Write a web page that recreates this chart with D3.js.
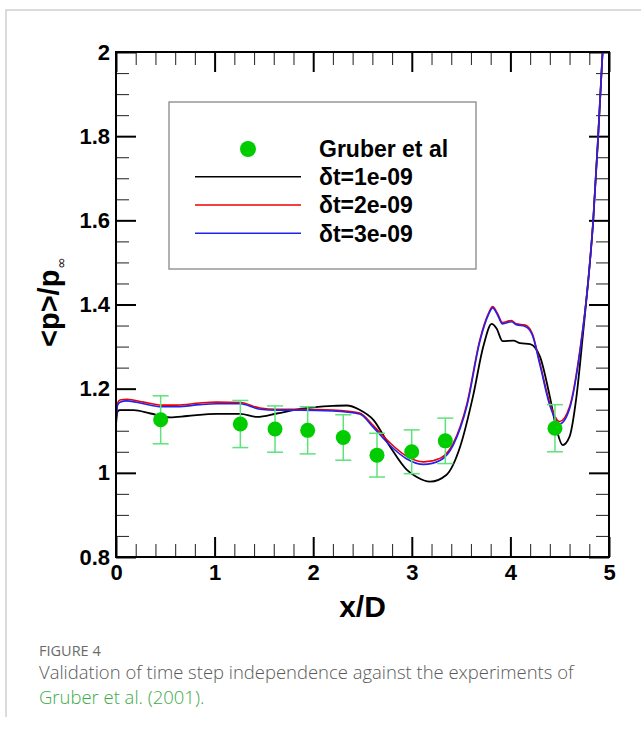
<!DOCTYPE html>
<html>
<head>
<meta charset="utf-8">
<script src="https://cdn.jsdelivr.net/npm/d3@7"></script>
<style>
  html, body { margin: 0; padding: 0; background: #fff; }
  svg { display: block; }
</style>
</head>
<body>
<svg id="chart" width="641" height="729"></svg>
<script>
// ---------- data ----------
const xTicks = [0, 1, 2, 3, 4, 5];
const yTicks = [0.8, 1, 1.2, 1.4, 1.6, 1.8, 2];
const yTickLabels = ["0.8", "1", "1.2", "1.4", "1.6", "1.8", "2"];

const gruberX   = [0.453, 1.261, 1.613, 1.944, 2.305, 2.647, 2.999, 3.340, 4.452];
const gruberY   = [1.126, 1.116, 1.104, 1.101, 1.084, 1.042, 1.050, 1.076, 1.106];
const gruberErr = [0.057, 0.056, 0.055, 0.056, 0.054, 0.052, 0.052, 0.054, 0.056];

const dt1X = [0, 0.015, 0.04, 0.18, 0.35, 0.55, 0.72, 1.02, 1.26, 1.43, 1.63, 1.87, 2.2, 2.34, 2.47, 2.61, 2.78, 2.95, 3.05, 3.185, 3.35, 3.49, 3.62, 3.725, 3.81, 3.86, 3.92, 4.03, 4.10, 4.20, 4.30, 4.40, 4.47, 4.53, 4.60, 4.67, 4.74, 4.79, 4.84, 4.89, 4.935, 4.96];
const dt1Y = [1.115, 1.145, 1.149, 1.149, 1.141, 1.132, 1.135, 1.140, 1.140, 1.133, 1.141, 1.152, 1.159, 1.160, 1.150, 1.126, 1.062, 1.007, 0.990, 0.979, 0.995, 1.062, 1.181, 1.300, 1.354, 1.343, 1.313, 1.314, 1.308, 1.306, 1.276, 1.181, 1.102, 1.066, 1.086, 1.181, 1.339, 1.458, 1.600, 1.800, 2.000, 2.100];

const dt2X = [0, 0.015, 0.04, 0.11, 0.28, 0.46, 0.62, 0.85, 1.02, 1.26, 1.46, 1.63, 1.87, 2.2, 2.47, 2.61, 2.78, 2.95, 3.12, 3.29, 3.42, 3.56, 3.69, 3.78, 3.82, 3.87, 3.92, 4.01, 4.06, 4.15, 4.22, 4.30, 4.40, 4.50, 4.60, 4.71, 4.79, 4.84, 4.89, 4.935, 4.96];
const dt2Y = [1.125, 1.165, 1.173, 1.175, 1.168, 1.161, 1.161, 1.166, 1.168, 1.167, 1.154, 1.151, 1.151, 1.149, 1.142, 1.112, 1.071, 1.039, 1.026, 1.035, 1.070, 1.165, 1.316, 1.380, 1.395, 1.378, 1.357, 1.362, 1.354, 1.351, 1.332, 1.260, 1.165, 1.122, 1.157, 1.300, 1.458, 1.600, 1.800, 2.000, 2.100];

const dt3X = [0, 0.015, 0.04, 0.11, 0.28, 0.46, 0.62, 0.85, 1.02, 1.26, 1.46, 1.63, 1.87, 2.2, 2.47, 2.61, 2.78, 2.95, 3.12, 3.29, 3.42, 3.56, 3.69, 3.78, 3.82, 3.87, 3.92, 4.01, 4.06, 4.15, 4.22, 4.30, 4.40, 4.50, 4.60, 4.71, 4.79, 4.84, 4.89, 4.935, 4.96];
const dt3Y = [1.120, 1.160, 1.168, 1.171, 1.164, 1.157, 1.157, 1.162, 1.164, 1.164, 1.151, 1.149, 1.149, 1.147, 1.140, 1.108, 1.065, 1.033, 1.020, 1.030, 1.066, 1.160, 1.312, 1.377, 1.392, 1.375, 1.354, 1.359, 1.352, 1.348, 1.329, 1.256, 1.160, 1.116, 1.152, 1.296, 1.458, 1.600, 1.800, 2.000, 2.100];

const seriesNames = ["δt=1e-09", "δt=2e-09", "δt=3e-09"];
const seriesColors = ["#000000", "#ee0000", "#2222ee"];
const expName = "Gruber et al";

// ---------- layout ----------
const svg = d3.select("#chart");
const L = 116, R = 609, T = 52, B = 557;
const x = d3.scaleLinear().domain([0, 5]).range([L, R]);
const y = d3.scaleLinear().domain([0.8, 2]).range([B, T]);
const tickFont = "'Liberation Sans', Arial, sans-serif";

// outer frame of the figure card
svg.append("path").attr("d", `M6,717 V10 H641`).attr("fill", "none")
  .attr("stroke", "#cfcfcf").attr("stroke-width", 1.5);

// clip
svg.append("defs").append("clipPath").attr("id", "clip")
  .append("rect").attr("x", L).attr("y", T).attr("width", R - L).attr("height", B - T);

// ---------- axes ----------
const xMinor = d3.range(0, 5.0001, 0.2).filter(v => Math.abs(v - Math.round(v)) > 1e-6);
const yMinor = d3.range(0.8, 2.0001, 0.05).filter(v => Math.abs(v * 5 - Math.round(v * 5)) > 1e-6);

function styleAxis(g, major) {
  g.select(".domain").remove();
  g.selectAll(".tick line").attr("stroke", major ? "#000" : "#333").attr("stroke-width", major ? 2 : 1.1);
  g.selectAll("text").attr("font-family", tickFont).attr("font-weight", "bold").attr("font-size", 22).attr("fill", "#000");
}

// bottom
svg.append("g").attr("transform", `translate(0,${B})`)
  .call(d3.axisBottom(x).tickValues(xMinor).tickSize(-13).tickFormat(""))
  .call(g => styleAxis(g, false));
svg.append("g").attr("transform", `translate(0,${B})`)
  .call(d3.axisBottom(x).tickValues(xTicks).tickSize(-20).tickPadding(7).tickFormat(d3.format("d")))
  .call(g => styleAxis(g, true));
// top
svg.append("g").attr("transform", `translate(0,${T})`)
  .call(d3.axisTop(x).tickValues(xMinor).tickSize(-13).tickFormat(""))
  .call(g => styleAxis(g, false));
svg.append("g").attr("transform", `translate(0,${T})`)
  .call(d3.axisTop(x).tickValues(xTicks).tickSize(-20).tickFormat(""))
  .call(g => styleAxis(g, true));
// left
svg.append("g").attr("transform", `translate(${L},0)`)
  .call(d3.axisLeft(y).tickValues(yMinor).tickSize(-13).tickFormat(""))
  .call(g => styleAxis(g, false));
svg.append("g").attr("transform", `translate(${L},0)`)
  .call(d3.axisLeft(y).tickValues(yTicks).tickSize(-20).tickPadding(6).tickFormat((d, i) => yTickLabels[i]))
  .call(g => styleAxis(g, true));
// right
svg.append("g").attr("transform", `translate(${R},0)`)
  .call(d3.axisRight(y).tickValues(yMinor).tickSize(-13).tickFormat(""))
  .call(g => styleAxis(g, false));
svg.append("g").attr("transform", `translate(${R},0)`)
  .call(d3.axisRight(y).tickValues(yTicks).tickSize(-20).tickFormat(""))
  .call(g => styleAxis(g, true));

// ---------- lines ----------
const line = d3.line().x(d => x(d[0])).y(d => y(d[1])).curve(d3.curveMonotoneX);
const series = [
  d3.zip(dt1X, dt1Y),
  d3.zip(dt2X, dt2Y),
  d3.zip(dt3X, dt3Y)
];
const gLines = svg.append("g").attr("clip-path", "url(#clip)");
series.forEach((s, i) => {
  gLines.append("path").datum(s).attr("d", line).attr("fill", "none")
    .attr("stroke", seriesColors[i]).attr("stroke-width", i === 0 ? 1.8 : 1.6);
});

// ---------- experimental points ----------
const pts = d3.zip(gruberX, gruberY, gruberErr);
const gPts = svg.append("g");
const errColor = "#5ee27a";
pts.forEach(([px, py, pe]) => {
  gPts.append("line").attr("x1", x(px)).attr("x2", x(px)).attr("y1", y(py - pe)).attr("y2", y(py + pe))
    .attr("stroke", errColor).attr("stroke-width", 1.5);
  [py - pe, py + pe].forEach(v => {
    gPts.append("line").attr("x1", x(px) - 8).attr("x2", x(px) + 8).attr("y1", y(v)).attr("y2", y(v))
      .attr("stroke", errColor).attr("stroke-width", 1.5);
  });
});
pts.forEach(([px, py]) => {
  gPts.append("circle").attr("cx", x(px)).attr("cy", y(py)).attr("r", 7.5).attr("fill", "#00cc00");
});

// ---------- frame ----------
svg.append("rect").attr("x", L).attr("y", T).attr("width", R - L).attr("height", B - T)
  .attr("fill", "none").attr("stroke", "#000").attr("stroke-width", 2);

// ---------- legend ----------
const lg = svg.append("g");
lg.append("rect").attr("x", 169).attr("y", 102).attr("width", 307).attr("height", 167)
  .attr("fill", "#fff").attr("stroke", "#888").attr("stroke-width", 1.3);
const lgText = (ty, t) => lg.append("text").attr("x", 319).attr("y", ty).text(t)
  .attr("font-family", tickFont).attr("font-weight", "bold").attr("font-size", 23).attr("fill", "#000");
lg.append("circle").attr("cx", 248).attr("cy", 149).attr("r", 8).attr("fill", "#00cc00");
lgText(157, expName);
seriesNames.forEach((n, i) => {
  const by = 185 + i * 28.3;
  lg.append("line").attr("x1", 195).attr("x2", 301).attr("y1", by - 8.3).attr("y2", by - 8.3)
    .attr("stroke", seriesColors[i]).attr("stroke-width", 1.6);
  lgText(by, n);
});

// ---------- axis titles ----------
svg.append("text").attr("x", (L + R) / 2).attr("y", 617).attr("text-anchor", "middle")
  .attr("font-family", tickFont).attr("font-weight", "bold").attr("font-size", 30).text("x/D");

const yt = svg.append("text").attr("transform", "translate(59,302) rotate(-90)")
  .attr("text-anchor", "middle").attr("font-family", tickFont).attr("font-weight", "bold").attr("font-size", 29);
yt.append("tspan").text("<p>/p");
yt.append("tspan").attr("font-size", 14).attr("font-weight", "normal")
  .attr("font-family", "'DejaVu Sans', sans-serif").attr("dx", 1).attr("dy", 7).text("∞");

// ---------- caption ----------
const capFont = "'Open Sans', 'Noto Sans', sans-serif";
svg.append("text").attr("x", 39).attr("y", 656).text("FIGURE 4")
  .attr("font-family", capFont).attr("font-size", 14.5).attr("fill", "#6b6b6b");
const c1 = svg.append("text").attr("x", 39).attr("y", 679)
  .text("Validation of time step independence against the experiments of")
  .attr("font-family", capFont).attr("font-weight", 300).attr("font-size", 18).attr("fill", "#5a5a5a");
const w1 = c1.node().getComputedTextLength();
const fs = 18 * 535 / w1;
c1.attr("font-size", fs);
svg.append("text").attr("x", 39).attr("y", 704).text("Gruber et al. (2001).")
  .attr("font-family", capFont).attr("font-weight", 300).attr("font-size", fs).attr("fill", "#3daa48");
</script>
</body>
</html>
